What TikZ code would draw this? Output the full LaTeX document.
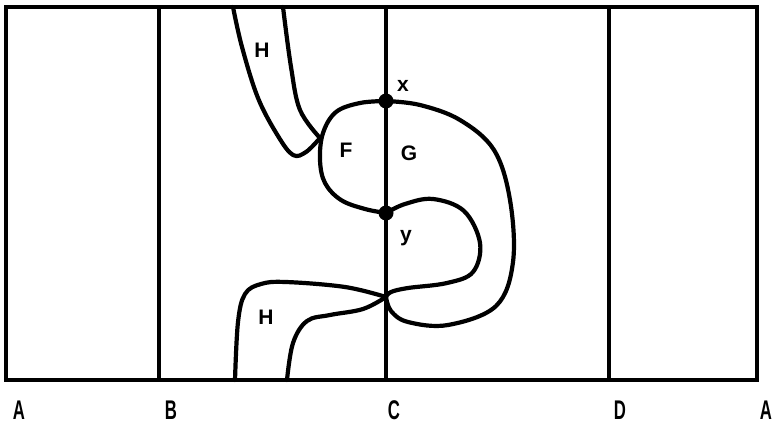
\documentclass[tikz,border=0pt]{standalone}
\usepackage{fontspec}
\usepackage{graphicx}
\setmainfont{Liberation Sans}
\begin{document}
\begin{tikzpicture}[x=1pt,y=-1pt,
  frame/.style={line width=4pt},
  curve/.style={line width=4.2pt,line join=round,line cap=round},
  lbl/.style={font=\fontsize{21}{24}\selectfont\bfseries},
  axislbl/.style={font=\fontsize{27}{30}\selectfont\bfseries,anchor=center},
  dot/.style={circle,fill=black,inner sep=0pt,minimum size=15pt}]
\useasboundingbox (0,0) rectangle (775,425);
% frame and vertical lines
\coordinate (tl) at (6,7);
\coordinate (br) at (757,380);
\draw[frame] (tl) rectangle (br);
\coordinate (Bt) at (159,7); \coordinate (Bb) at (159,380);
\coordinate (Ct) at (386,7); \coordinate (Cb) at (386,380);
\coordinate (Dt) at (609,7); \coordinate (Db) at (609,380);
\draw[frame] (Bt) -- (Bb);
\draw[line width=3.4pt] (Ct) -- (Cb);
\draw[frame] (Dt) -- (Db);
% key points
\coordinate (x) at (386,101);
\coordinate (y) at (386,213);
\coordinate (p) at (386,297);
\coordinate (q) at (320,138);
% upper H strip
\draw[curve] plot[smooth,tension=0.6] coordinates {(233,7) (242,47) (258,98) (278,136) (293,155) (306,152) (320,138)};
\draw[curve] plot[smooth,tension=0.6] coordinates {(283,7) (291,67) (300,110) (320,138)};
% F curve
\draw[curve] plot[smooth,tension=0.6] coordinates {(386,101) (360,103) (336,112) (323,133) (320,160) (325,183) (341,200) (365,209) (386,213)};
% G outer loop
\draw[curve] plot[smooth,tension=0.6] coordinates {(386,101) (420,105) (460,120) (494,150) (510,200) (513,262) (496,306) (448,325) (408,322) (391,311) (386,297)};
% inner loop
\draw[curve] plot[smooth,tension=0.6] coordinates {(386,213) (405,204) (433,199) (464,211) (480,243) (473,272) (447,283) (408,288) (391,292) (386,297)};
% lower H strip
\draw[curve] plot[smooth,tension=0.6] coordinates {(235,380) (238,322) (245,294) (261,284) (286,282) (345,287) (386,297)};
\draw[curve] plot[smooth,tension=0.6] coordinates {(287,380) (293,343) (307,321) (330,315) (363,309) (386,297)};
% dots
\node[dot] (xd) at (x) {};
\node[dot] (yd) at (y) {};
% labels
\node[lbl] (lH1) at (262,50) {H};
\node[lbl] (lx) at (403,86) {x};
\node[lbl] (lF) at (346,150) {F};
\node[lbl] (lG) at (409,153) {G};
\node[lbl] (ly) at (406,238) {y};
\node[lbl] (lH2) at (266,317) {H};
\node[axislbl] (aA1) at (19,410) {\scalebox{0.62}[1]{A}};
\node[axislbl] (aB) at (171,410) {\scalebox{0.62}[1]{B}};
\node[axislbl] (aC) at (394,410) {\scalebox{0.62}[1]{C}};
\node[axislbl] (aD) at (620,410) {\scalebox{0.62}[1]{D}};
\node[axislbl] (aA2) at (766,410) {\scalebox{0.62}[1]{A}};
\end{tikzpicture}
\end{document}
